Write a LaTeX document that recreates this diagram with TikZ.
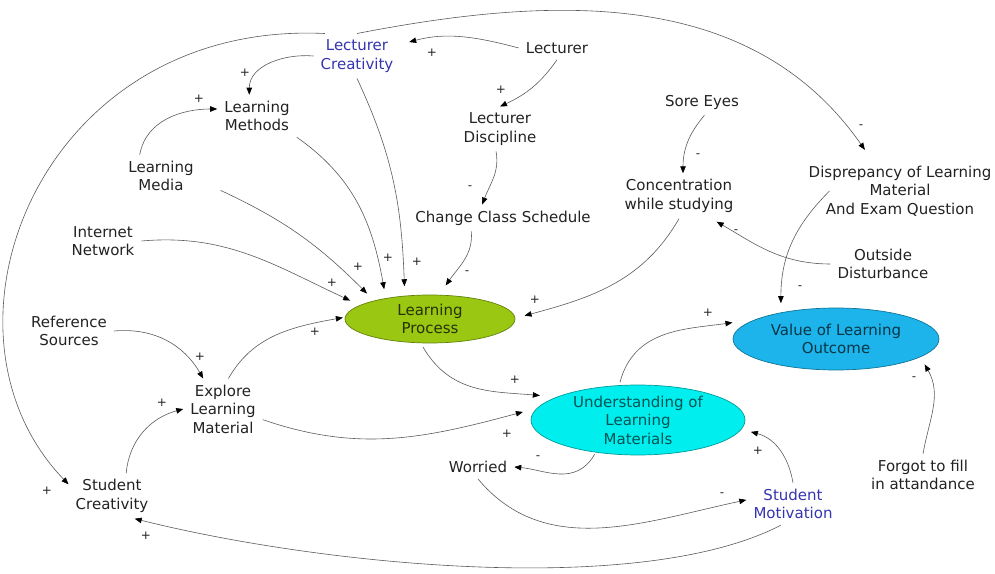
\documentclass[tikz,border=0pt]{standalone}
\usepackage{fontspec}
\setmainfont{DejaVu Sans}
\usepackage{tikz}
\usetikzlibrary{arrows.meta, shapes.geometric}
\definecolor{inkgray}{HTML}{222222}
\definecolor{linkgray}{HTML}{5A5A5A}
\definecolor{lecblue}{HTML}{3434B0}
\definecolor{procgreen}{HTML}{99C712}
\definecolor{outblue}{HTML}{1CB4EA}
\definecolor{undcyan}{HTML}{00EEEE}

\begin{document}
\begin{tikzpicture}[x=1pt, y=1pt,
    var/.style={align=center, text=inkgray, font=\fontsize{15}{18.5}\selectfont, inner xsep=7pt, inner ysep=6pt},
    keyvar/.style={var, text=lecblue},
    stock/.style={ellipse, draw=#1!65!black, fill=#1, line width=0.7pt, align=center, font=\fontsize{15}{18.5}\selectfont, inner sep=0pt, outer sep=10pt},
    link/.style={draw=linkgray, line width=0.6pt, -{Triangle[length=7pt, width=5.5pt, color=black]}},
    pol/.style={text=inkgray, font=\fontsize{12}{12}\selectfont, inner sep=0pt}]
    \useasboundingbox (0,0) rectangle (995,573);

    \node[keyvar] (lcr) at (357,517) {Lecturer\\Creativity};
    \node[var] (lec) at (557,525) {Lecturer};
    \node[var] (lme) at (257,457) {Learning\\Methods};
    \node[var] (ldi) at (500,444) {Lecturer\\Discipline};
    \node[var] (lmd) at (161,397) {Learning\\Media};
    \node[var] (sor) at (702,471) {Sore Eyes};
    \node[var] (con) at (679,377) {Concentration\\while studying};
    \node[var] (dis) at (900,382) {Disprepancy of Learning\\Material\\And Exam Question};
    \node[var] (chs) at (503,355) {Change Class Schedule};
    \node[var] (inn) at (103,332) {Internet\\Network};
    \node[var] (out) at (883,309) {Outside\\Disturbance};
    \node[stock=procgreen, minimum width=170pt, minimum height=48pt, text=procgreen!25!black] (lpr) at (430,254) {Learning\\Process};
    \node[var] (ref) at (69,242) {Reference\\Sources};
    \node[stock=outblue, minimum width=206pt, minimum height=62pt, text=outblue!30!black] (val) at (836,234) {Value of Learning\\Outcome};
    \node[var] (exp) at (223,164) {Explore\\Learning\\Material};
    \node[stock=undcyan, minimum width=214pt, minimum height=70pt, text=undcyan!35!black] (und) at (638,153) {Understanding of\\Learning\\Materials};
    \node[var] (wor) at (478,106) {Worried};
    \node[var] (scr) at (112,77) {Student\\Creativity};
    \node[keyvar] (smo) at (793,69) {Student\\Motivation};
    \node[var] (fgt) at (923,98) {Forgot to fill\\in attandance};

    \draw[link, shorten >=9pt] (lec.west) to[out=165,in=15] (lcr.15);
    \node[pol] (s1) at (432,520) {+};
    \draw[link] (lec.south) to[out=-125,in=25] (ldi.north);
    \node[pol] (s2) at (501,483) {+};
    \draw[link] (lcr.west) to[out=175,in=90] (lme.110);
    \node[pol] (s3) at (245,500) {+};
    \draw[link] (lmd.135) to[out=80,in=180] (lme.170);
    \node[pol] (s4) at (199,474) {+};
    \draw[link] (ldi.-100) to[out=-80,in=70] (chs.147);
    \node[pol] (s5) at (470,385) {-};
    \draw[link] (chs.-157) to[out=-85,in=55] (lpr.65);
    \node[pol] (s6) at (467,300) {-};
    \draw[link] (lcr.south) to[out=-65,in=92] (lpr.128);
    \node[pol] (s7) at (417,311) {+};
    \draw[link] (lme.south east) to[out=-35,in=100] (lpr.147);
    \node[pol] (s8) at (388,315) {+};
    \draw[link] ([xshift=20pt]lmd.-20) to[out=-25,in=135] (lpr.158);
    \node[pol] (s9) at (358,306) {+};
    \draw[link] (inn.east) to[out=5,in=155] (lpr.167);
    \node[pol] (s10) at (332,290) {+};
    \draw[link] (sor.-80) to[out=-130,in=90] (con.80);
    \node[pol] (s11) at (698,417) {-};
    \draw[link, shorten >=6pt] (out.west) to[out=180,in=-30] (con.-35);
    \node[pol] (s12) at (736,341) {-};
    \draw[link] (con.south) to[out=-120,in=15] (lpr.2);
    \node[pol] (s13) at (535,273) {+};
    \draw[link, shorten >=12pt] (lcr.north) to[out=11,in=125] (dis.132);
    \node[pol] (s14) at (861,446) {-};
    \draw[link] (lcr.145) .. controls (40,553) and (-80,243) .. (scr.165);
    \node[pol] (s15) at (47,82) {+};
    \draw[link] ([xshift=28pt]dis.west) to[out=-135,in=90] (val.147);
    \node[pol] (s16) at (800,285) {-};
    \draw[link] (ref.east) to[out=5,in=120] (exp.123);
    \node[pol] (s17) at (200,216) {+};
    \draw[link, shorten >=-8pt] (exp.80) to[out=60,in=190] (lpr.west);
    \node[pol] (s18) at (315,241) {+};
    \draw[link] (scr.58) to[out=85,in=195] (exp.west);
    \node[pol] (s19) at (162,170) {+};
    \draw[link] (exp.-15) to[out=-19,in=195] (und.176);
    \node[pol] (s20) at (507,139) {+};
    \draw[link, shorten <=-7pt] (lpr.-96) to[out=-60,in=175] (und.166);
    \node[pol] (s21) at (515,193) {+};
    \draw[link, shorten <=-7pt] (und.110) to[out=75,in=188] (val.171);
    \node[pol] (s22) at (708,260) {+};
    \draw[link, shorten <=-8pt] (und.-139) to[out=-120,in=-5] (wor.east);
    \node[pol] (s23) at (538,115) {-};
    \draw[link] (wor.south) to[out=-50,in=192] (smo.175);
    \node[pol] (s24) at (722,78) {-};
    \draw[link] (smo.north) to[out=100,in=-15] (und.-6);
    \node[pol] (s25) at (758,122) {+};
    \draw[link] (smo.-120) .. controls (640,-25) and (320,8) .. (scr.-45);
    \node[pol] (s26) at (146,37) {+};
    \draw[link] (fgt.north) to[out=80,in=-60] (val.-16);
    \node[pol] (s27) at (914,194) {-};
\end{tikzpicture}
\end{document}
